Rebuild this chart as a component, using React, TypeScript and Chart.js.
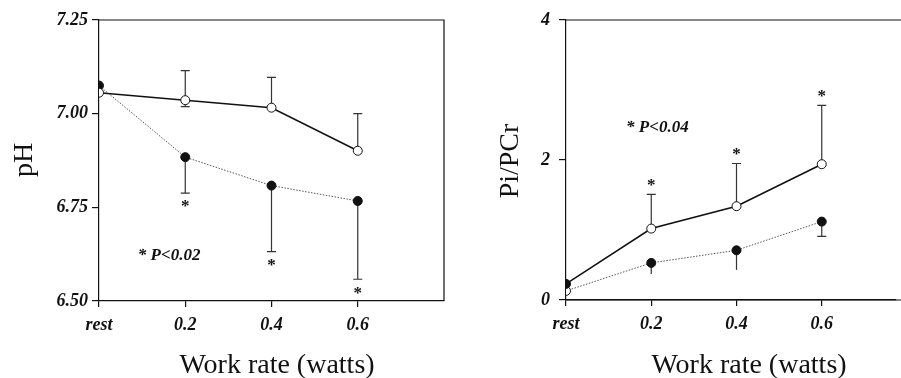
import React, { useEffect, useRef } from "react";
import { Chart, registerables } from "chart.js";

Chart.register(...registerables);

// ---------- data ----------
const xValues = [0, 0.2, 0.4, 0.6];
const xTickLabels = ["rest", "0.2", "0.4", "0.6"];

const phTicks = [6.5, 6.75, 7.0, 7.25];
const phOpen = [7.056, 7.036, 7.016, 6.901];
const phOpenErrUp = [0, 0.079, 0.081, 0.099];
const phOpenErrDown = [0, 0.017, 0, 0];
const phFilled = [7.075, 6.884, 6.808, 6.767];
const phFilledErrDown = [0, 0.096, 0.176, 0.209];
const phStars = [false, true, true, true];

const ratioTicks = [0, 2, 4];
const ratioSolid = [0.23, 1.02, 1.34, 1.94];
const ratioSolidErrUp = [0, 0.49, 0.61, 0.84];
const ratioDotted = [0.13, 0.53, 0.71, 1.12];
const ratioDottedErrDown = [0, 0.16, 0.28, 0.21];
const ratioStars = [false, true, true, true];

// marker fill per point: true = filled, false = open
const ratioSolidFilled = [true, false, false, false];
const ratioDottedFilled = [false, true, true, true];

const SERIF = "'Liberation Serif', 'DejaVu Serif', serif";
const tickFont = { family: SERIF, size: 18, style: "italic" as const, weight: "bold" as const };

const overlayPlugin = {
  id: "overlay",
  beforeDatasetsDraw(chart: any, _a: any, opts: any) {
    const { ctx } = chart;
    const xs = chart.scales.x;
    const ys = chart.scales.y;
    ctx.save();
    ctx.strokeStyle = "#333";
    ctx.lineWidth = 1.2;
    for (const b of opts.bars || []) {
      b.values.forEach((v: number, i: number) => {
        const e = b.errs[i];
        if (!e) return;
        const px = xs.getPixelForValue(xValues[i]);
        const y0 = ys.getPixelForValue(v);
        const y1 = ys.getPixelForValue(v + b.dir * e);
        ctx.beginPath();
        ctx.moveTo(px, y0);
        ctx.lineTo(px, y1);
        if (b.caps ? b.caps[i] : true) {
          ctx.moveTo(px - 4.5, y1);
          ctx.lineTo(px + 4.5, y1);
        }
        ctx.stroke();
        if (b.stars && b.stars[i]) {
          ctx.fillStyle = "#111";
          ctx.font = `bold 17px ${SERIF}`;
          ctx.textAlign = "center";
          ctx.textBaseline = "middle";
          ctx.fillText("*", px, y1 + (b.dir > 0 ? -9 : 14));
        }
      });
    }
    ctx.restore();
  },
  afterDraw(chart: any, _a: any, opts: any) {
    const { ctx, chartArea } = chart;
    const xs = chart.scales.x;
    const ys = chart.scales.y;
    ctx.save();
    // frame
    ctx.strokeStyle = "#111";
    ctx.lineWidth = 1.2;
    ctx.beginPath();
    if (opts.frame === "box") {
      ctx.moveTo(chartArea.left, chartArea.top);
      ctx.lineTo(chartArea.right, chartArea.top);
      ctx.lineTo(chartArea.right, chartArea.bottom);
    } else {
      ctx.moveTo(chartArea.left, chartArea.top);
      ctx.lineTo(chart.width, chartArea.top);
      ctx.moveTo(chartArea.left, chartArea.bottom);
      ctx.lineTo(chart.width, chartArea.bottom);
    }
    ctx.stroke();
    // annotation
    ctx.fillStyle = "#111";
    ctx.font = `italic bold 17px ${SERIF}`;
    ctx.textAlign = "left";
    ctx.textBaseline = "middle";
    ctx.fillText(opts.note.text, xs.getPixelForValue(opts.note.x), ys.getPixelForValue(opts.note.y));
    // axis titles
    ctx.font = `28px ${SERIF}`;
    ctx.textAlign = "center";
    ctx.fillText(opts.xTitle.text, opts.xTitle.x, opts.xTitle.y);
    ctx.translate(opts.yTitle.x, opts.yTitle.y);
    ctx.rotate(-Math.PI / 2);
    ctx.fillText(opts.yTitle.text, 0, 0);
    ctx.restore();
  },
};

function makeOptions(cfg: any) {
  return {
    responsive: false,
    animation: false as const,
    devicePixelRatio: 1,
    layout: { padding: cfg.padding },
    plugins: {
      legend: { display: false },
      tooltip: { enabled: false },
      overlay: cfg.overlay,
    },
    scales: {
      x: {
        type: "linear" as const,
        min: 0,
        max: cfg.xMax,
        afterBuildTicks: (s: any) => {
          s.ticks = xValues.map((v) => ({ value: v }));
        },
        afterFit: (s: any) => {
          s.height = cfg.xHeight;
        },
        ticks: {
          color: "#111",
          font: tickFont,
          padding: 8,
          maxRotation: 0,
          callback: (v: any) => {
            const i = xValues.indexOf(Number(v));
            return i >= 0 ? xTickLabels[i] : "";
          },
        },
        grid: { drawOnChartArea: false, drawTicks: true, tickLength: 6, color: "#111", lineWidth: 1.2 },
        border: { display: true, color: "#111", width: 1.2 },
      },
      y: {
        type: "linear" as const,
        min: cfg.yTicks[0],
        max: cfg.yTicks[cfg.yTicks.length - 1],
        afterBuildTicks: (s: any) => {
          s.ticks = cfg.yTicks.map((v: number) => ({ value: v }));
        },
        afterFit: (s: any) => {
          s.width = cfg.yWidth;
        },
        ticks: {
          color: "#111",
          font: tickFont,
          padding: cfg.yPad,
          callback: cfg.yFmt,
        },
        grid: { drawOnChartArea: false, drawTicks: true, tickLength: 7, color: "#111", lineWidth: 1.2 },
        border: { display: true, color: "#111", width: 1.2 },
      },
    },
  };
}

const solidStyle = {
  borderColor: "#111",
  borderWidth: 1.6,
  pointRadius: 4.5,
  pointBorderWidth: 1,
  pointBorderColor: "#111",
  tension: 0,
};
const dottedStyle = {
  borderColor: "#555",
  borderWidth: 1,
  borderDash: [1.5, 1.5],
  pointRadius: 4.5,
  pointBorderWidth: 1,
  pointBorderColor: "#111",
  tension: 0,
};

const fillColors = (flags: boolean[]) => flags.map((f) => (f ? "#111" : "#fff"));

export default function App() {
  const leftRef = useRef<HTMLCanvasElement>(null);
  const rightRef = useRef<HTMLCanvasElement>(null);

  useEffect(() => {
    const left = new Chart(leftRef.current!, {
      type: "line",
      data: {
        datasets: [
          {
            ...solidStyle,
            data: xValues.map((x, i) => ({ x, y: phOpen[i] })),
            pointBackgroundColor: "#fff",
          },
          {
            ...dottedStyle,
            data: xValues.map((x, i) => ({ x, y: phFilled[i] })),
            pointBackgroundColor: "#111",
          },
        ],
      },
      options: makeOptions({
        padding: { left: 0, right: 6, top: 20, bottom: 0 },
        xMax: 0.8,
        xHeight: 77,
        yWidth: 99,
        yPad: 4,
        yTicks: phTicks,
        yFmt: (v: any) => Number(v).toFixed(2),
        overlay: {
          frame: "box",
          bars: [
            { values: phOpen, errs: phOpenErrUp, dir: 1 },
            { values: phOpen, errs: phOpenErrDown, dir: -1 },
            { values: phFilled, errs: phFilledErrDown, dir: -1, stars: phStars },
          ],
          note: { text: "* P<0.02", x: 0.09, y: 6.62 },
          xTitle: { text: "Work rate (watts)", x: 277, y: 366 },
          yTitle: { text: "pH", x: 25, y: 160 },
        },
      }) as any,
      plugins: [overlayPlugin],
    });

    const right = new Chart(rightRef.current!, {
      type: "line",
      data: {
        datasets: [
          {
            ...solidStyle,
            data: xValues.map((x, i) => ({ x, y: ratioSolid[i] })),
            pointBackgroundColor: fillColors(ratioSolidFilled),
          },
          {
            ...dottedStyle,
            data: xValues.map((x, i) => ({ x, y: ratioDotted[i] })),
            pointBackgroundColor: fillColors(ratioDottedFilled),
          },
        ],
      },
      options: makeOptions({
        padding: { left: 0, right: 0, top: 20, bottom: 0 },
        xMax: 0.773,
        xHeight: 78,
        yWidth: 116,
        yPad: 9,
        yTicks: ratioTicks,
        yFmt: (v: any) => String(Number(v)),
        overlay: {
          frame: "top",
          bars: [
            { values: ratioSolid, errs: ratioSolidErrUp, dir: 1, stars: ratioStars },
            { values: ratioDotted, errs: ratioDottedErrDown, dir: -1, caps: [false, false, false, true] },
          ],
          note: { text: "* P<0.04", x: 0.141, y: 2.46 },
          xTitle: { text: "Work rate (watts)", x: 299, y: 366 },
          yTitle: { text: "Pi/PCr", x: 61, y: 161 },
        },
      }) as any,
      plugins: [overlayPlugin],
    });

    return () => {
      left.destroy();
      right.destroy();
    };
  }, []);

  return (
    <div style={{ position: "absolute", left: 0, top: 0, width: 901, height: 378, background: "#fff", overflow: "hidden" }}>
      <canvas ref={leftRef} width={450} height={378} style={{ position: "absolute", left: 0, top: 0 }} />
      <canvas ref={rightRef} width={451} height={378} style={{ position: "absolute", left: 450, top: 0 }} />
    </div>
  );
}
